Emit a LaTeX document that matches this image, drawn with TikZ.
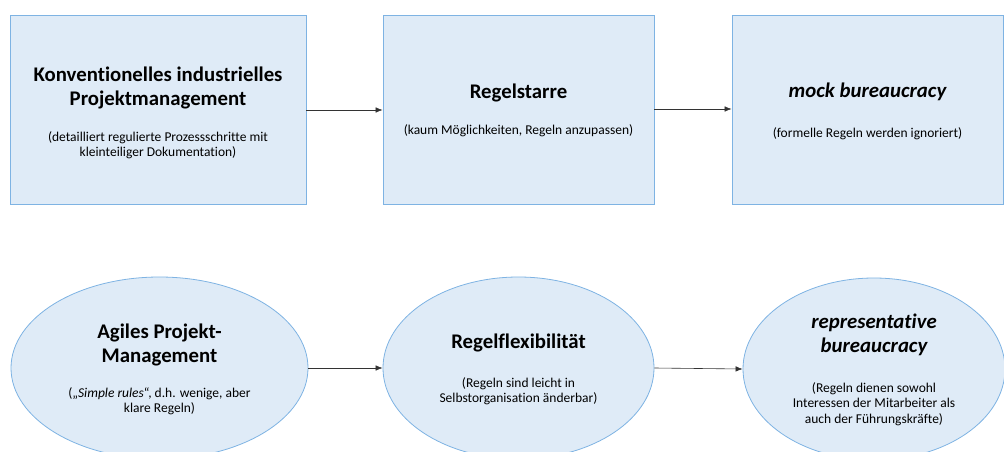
\documentclass[tikz,border=0pt]{standalone}
\usepackage{fontspec}
\setmainfont{Carlito}[Ligatures=NoCommon]
\usetikzlibrary{shapes.geometric,arrows.meta}
\definecolor{boxfill}{HTML}{DFEBF7}
\definecolor{boxline}{HTML}{7EB3E3}
\begin{document}
\begin{tikzpicture}[x=1pt,y=-1pt,
  box/.style={draw=boxline,fill=boxfill,line width=0.8pt,inner sep=0pt},
  oval/.style={ellipse,draw=boxline,fill=boxfill,line width=0.8pt,inner sep=0pt},
  ttl/.style={font=\fontsize{20.8}{23.5}\selectfont\bfseries,align=center,inner sep=0pt},
  sub/.style={font=\fontsize{13.5}{15.5}\selectfont,align=center,inner sep=0pt},
  conn/.style={-{Latex[length=7pt,width=5.5pt]},line width=0.6pt,black!80}]
\useasboundingbox (0,0) rectangle (1004,452);
% top row
\node[box,minimum width=296pt,minimum height=189pt] (b1) at (158,109.5) {};
\node[box,minimum width=271pt,minimum height=189pt] (b2) at (518.5,109.5) {};
\node[box,minimum width=271pt,minimum height=189pt] (b3) at (867.5,109.5) {};
\node[ttl] (b1t) at (158,88) {Konventionelles industrielles\\Projektmanagement};
\node[sub] (b1s) at (158,145) {(detailliert regulierte Prozessschritte mit\\kleinteiliger Dokumentation)};
\node[ttl] (b2t) at (518.5,93) {Regelstarre};
\node[sub] (b2s) at (518.5,131) {(kaum Möglichkeiten, Regeln anzupassen)};
\node[ttl] (b3t) at (867.5,92) {\itshape mock bureaucracy};
\node[sub] (b3s) at (867.5,134) {(formelle Regeln werden ignoriert)};
\draw[conn] (b1.east |- 0,110) -- (b2.west |- 0,110);
\draw[conn] (b2.east |- 0,109) -- (b3.west |- 0,109);
% bottom row
\node[oval,minimum width=297pt,minimum height=182pt] (e1) at (159.5,368) {};
\node[oval,minimum width=271pt,minimum height=182pt] (e2) at (518.5,368) {};
\node[oval,minimum width=262pt,minimum height=182pt] (e3) at (874,369) {};
\node[ttl] (e1t) at (159.5,345) {Agiles Projekt-\\Management};
\node[sub] (e1s) at (159.5,401) {(„\textit{Simple rules}“, d.h. wenige, aber\\klare Regeln)};
\node[ttl] (e2t) at (518.5,343) {Regelflexibilität};
\node[sub] (e2s) at (518.5,391) {(Regeln sind leicht in\\Selbstorganisation änderbar)};
\node[ttl] (e3t) at (874,335) {\itshape representative\\\itshape bureaucracy};
\node[sub] (e3s) at (874,404) {(Regeln dienen sowohl\\Interessen der Mitarbeiter als\\auch der Führungskräfte)};
\draw[conn] (e1.east) -- (e2.west);
\draw[conn] (e2.east) -- (e3.west);
\end{tikzpicture}
\end{document}
